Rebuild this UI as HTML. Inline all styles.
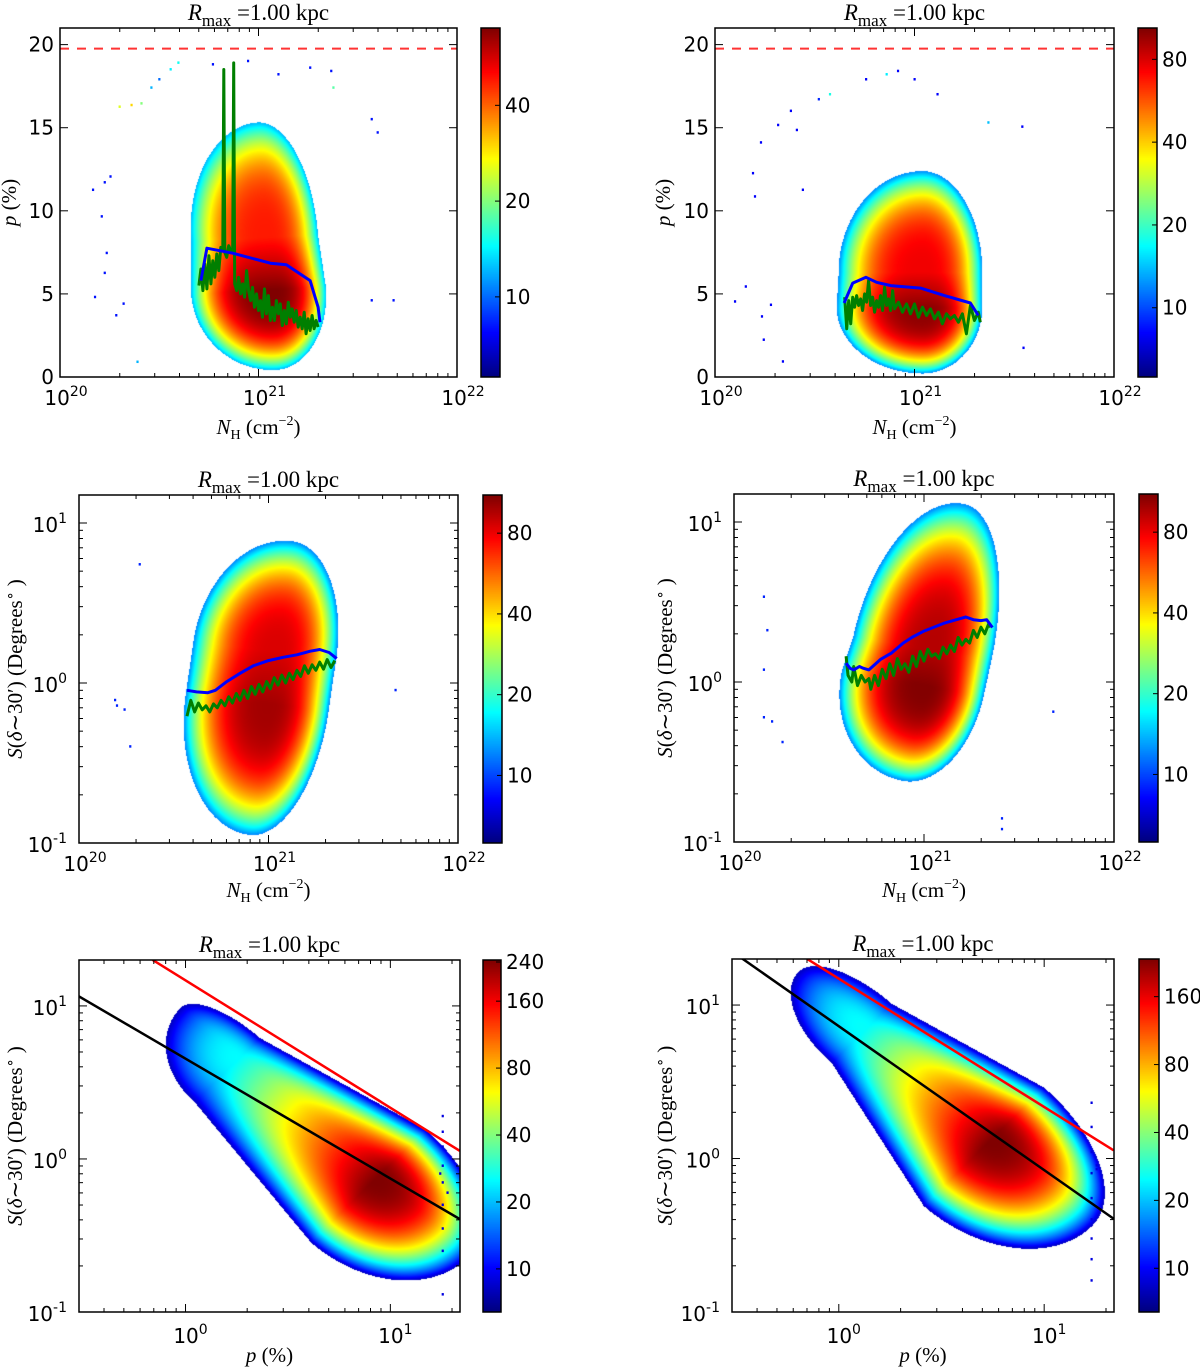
<!DOCTYPE html>
<html><head><meta charset="utf-8">
<style>
html,body{margin:0;padding:0;background:#fff;}
#root{position:relative;width:1200px;height:1372px;overflow:hidden;background:#fff;}
canvas{position:absolute;}
svg{position:absolute;left:0;top:0;}
</style></head>
<body>
<div id="root">
<svg id="svg" width="1200" height="1372" xmlns="http://www.w3.org/2000/svg"></svg>
</div>
<script>
// ---------- DATA ----------
const blueA_x=[20.71,20.74,20.87,21.06,21.14,21.26,21.30,21.31];
const blueA_y=[5.8,7.75,7.45,6.85,6.75,5.8,4.2,3.3];
const greenA_x=[20.70,20.71,20.72,20.73,20.74,20.75,20.76,20.77,20.78,20.79,20.80,20.81,20.82,20.825,20.83,20.84,20.85,20.86,20.87,20.875,20.88,20.89,20.90,20.91,20.92,20.93,20.94,20.95,20.96,20.97,20.98,20.99,21.00,21.01,21.02,21.03,21.04,21.05,21.06,21.07,21.08,21.09,21.10,21.11,21.12,21.13,21.14,21.15,21.16,21.17,21.18,21.19,21.20,21.21,21.22,21.23,21.24,21.25,21.26,21.27,21.28,21.29,21.30];
const greenA_y=[5.5,6.5,5.2,6.8,5.3,7.3,5.6,7.0,6.0,7.4,6.4,7.8,7.6,18.5,7.5,7.2,7.9,7.6,7.6,18.9,5.6,5.2,6.0,5.0,5.6,4.8,6.4,5.2,4.6,5.4,4.2,5.0,4.0,4.6,3.6,5.3,3.8,4.9,3.4,4.2,3.4,4.6,3.8,4.4,3.1,4.0,3.2,4.5,3.6,4.1,3.3,4.0,3.0,3.6,2.9,3.9,2.6,3.5,2.8,3.7,2.9,3.4,3.0];
const dotsA_x=[20.166,20.225,20.254,20.21,20.235,20.225,20.176,20.283,20.32,20.30,20.36,20.41,20.46,20.50,20.557,20.596,20.77,20.947,21.10,21.26,21.366,21.377,21.57,21.60,20.39,21.68,21.57];
const dotsA_y=[11.25,11.7,12.05,9.65,7.45,6.25,4.8,3.7,4.4,16.25,16.35,16.45,17.4,17.9,18.5,18.9,18.8,19.0,18.2,18.6,18.4,17.4,15.5,14.7,0.9,4.6,4.6];
const dotsA_v=[8,8,8,8,8,8,8,8,8,25,30,20,12,10,14,15,8,8,8,8,8,18,8,8,12,8,8];
const blueB_x=[20.647,20.69,20.757,20.81,20.88,21.03,21.15,21.28,21.32];
const blueB_y=[4.45,5.65,6.0,5.7,5.5,5.35,4.9,4.45,3.7];
const greenB_x=[20.65,20.66,20.67,20.68,20.69,20.70,20.71,20.72,20.73,20.74,20.75,20.76,20.77,20.78,20.79,20.80,20.81,20.82,20.83,20.84,20.85,20.86,20.87,20.88,20.89,20.90,20.92,20.94,20.96,20.98,21.00,21.02,21.04,21.06,21.08,21.10,21.12,21.14,21.16,21.18,21.20,21.22,21.24,21.26,21.28,21.30,21.32,21.33];
const greenB_y=[4.8,2.9,4.6,3.2,4.8,4.2,4.9,4.3,4.7,4.0,5.0,4.5,5.8,4.3,4.8,3.9,4.6,4.2,4.9,4.0,5.4,4.3,4.7,4.0,5.2,4.1,4.5,3.9,4.4,3.8,4.4,3.6,4.2,3.7,4.1,3.5,3.9,3.2,3.8,3.5,3.7,3.3,3.8,2.6,4.3,3.4,3.9,3.3];
const dotsB_x=[20.576,20.52,20.757,20.917,20.86,21.0,21.115,21.37,21.54,20.316,20.41,20.38,20.23,20.19,20.20,20.154,20.10,20.235,20.28,20.244,20.34,21.546,20.44];
const dotsB_y=[17.0,16.7,17.9,18.4,18.2,17.9,17.0,15.3,15.05,15.15,14.85,16.0,14.1,12.25,10.85,5.43,4.53,3.63,4.33,2.23,0.92,1.74,11.25];
const dotsB_v=[18,9,8,8,16,8,8,14,8,8,8,8,8,8,8,8,8,8,8,8,8,8,8];
const blueC_x=[20.57,20.62,20.68,20.72,20.78,20.85,20.92,21.0,21.08,21.15,21.22,21.27,21.32,21.36];
const blueC_y=[0.9,0.88,0.87,0.9,1.02,1.15,1.28,1.38,1.45,1.5,1.58,1.62,1.55,1.42];
const greenC_x=[20.57,20.59,20.61,20.63,20.65,20.67,20.69,20.71,20.73,20.75,20.77,20.79,20.81,20.83,20.85,20.87,20.89,20.91,20.93,20.95,20.97,20.99,21.01,21.03,21.05,21.07,21.09,21.11,21.13,21.15,21.17,21.19,21.21,21.23,21.25,21.27,21.29,21.31,21.33,21.35];
const greenC_y=[0.62,0.78,0.66,0.75,0.68,0.72,0.66,0.74,0.70,0.78,0.72,0.82,0.75,0.86,0.78,0.9,0.8,0.95,0.85,0.98,0.88,1.02,0.92,1.08,0.97,1.12,1.0,1.15,1.05,1.2,1.1,1.28,1.15,1.3,1.2,1.35,1.22,1.4,1.25,1.38];
const dotsC_x=[20.19,20.24,20.32,21.67,20.27,20.2];
const dotsC_y=[0.78,0.68,5.5,0.9,0.40,0.72];
const blueD_x=[20.59,20.61,20.63,20.66,20.68,20.71,20.77,20.83,20.89,20.94,21.0,21.06,21.11,21.17,21.22,21.26,21.3,21.33,21.36];
const blueD_y=[1.31,1.22,1.19,1.25,1.22,1.19,1.38,1.52,1.75,1.91,2.08,2.22,2.34,2.45,2.55,2.45,2.42,2.45,2.19];
const greenD_x=[20.59,20.6,20.62,20.63,20.65,20.67,20.69,20.71,20.72,20.74,20.76,20.78,20.8,20.82,20.84,20.86,20.88,20.9,20.92,20.94,20.96,20.98,21.0,21.02,21.04,21.06,21.08,21.1,21.12,21.14,21.16,21.18,21.2,21.22,21.24,21.26,21.28,21.3,21.32,21.34,21.35];
const greenD_y=[1.45,1.1,1.0,1.25,0.95,1.1,1.0,1.05,0.9,1.1,0.95,1.2,1.05,1.3,1.1,1.4,1.2,1.3,1.15,1.45,1.25,1.55,1.35,1.6,1.45,1.5,1.4,1.65,1.5,1.7,1.55,1.9,1.7,1.85,1.75,2.1,1.9,2.2,2.0,2.3,2.2];
const dotsD_x=[20.157,20.175,20.157,20.157,20.2,20.255,21.68,21.41,21.41];
const dotsD_y=[3.4,2.1,1.19,0.6,0.565,0.42,0.65,0.14,0.12];
const fitBlackE_x=[0.3,21.8], fitBlackE_y=[11.6,0.405];
const fitRedE_x=[0.69,21.8], fitRedE_y=[20,1.13];
const fitBlackF_x=[0.3,21.8], fitBlackF_y=[22.5,0.405];
const fitRedF_x=[0.7,21.8], fitRedF_y=[20,1.13];
const dotsE_x=[18,18,18,18,18,18,18,18,18,18,17.5,19];
const dotsE_y=[1.9,1.5,1.2,0.9,0.7,0.5,0.35,0.25,0.18,0.13,0.8,0.6];
const dotsF_x=[17,17,17,17,17,17,17,17,17,18,18];
const dotsF_y=[2.3,1.6,1.1,0.8,0.55,0.4,0.3,0.22,0.16,0.9,0.85];
// Density blob shape models (axes-fraction core segment, side radii at each end, peak counts)
const blobA={p1:[0.53,0.25],p2:[0.52,0.40],ra1:0.23,ra2:0.33,rpPos:[0.20,0.19],rpNeg:[0.14,0.13],pk1:70,pk2:48,edge:12,pw:3.2};
const blobB={p1:[0.52,0.20],p2:[0.52,0.30],ra1:0.19,ra2:0.29,rpPos:[0.215,0.21],rpNeg:[0.15,0.15],pk1:100,pk2:75,edge:12,pw:3.2};
const blobC={p1:[0.50,0.40],p2:[0.52,0.55],ra1:0.38,ra2:0.32,rpPos:[0.22,0.22],rpNeg:[0.16,0.16],pk1:100,pk2:85,edge:12,pw:3};
const blobD={p1:[0.50,0.45],p2:[0.52,0.55],ra1:0.28,ra2:0.43,rpPos:[0.22,0.21],rpNeg:[0.16,0.16],pk1:110,pk2:95,edge:12,pw:3};
const blobE={p1:[0.78,0.38],p2:[0.42,0.72],ra1:0.33,ra2:0.21,rpPos:[0.25,0.17],rpNeg:[0.19,0.08],pk1:245,pk2:25,edge:8,pw:2.5};
const blobF={p1:[0.68,0.49],p2:[0.35,0.80],ra1:0.36,ra2:0.24,rpPos:[0.26,0.13],rpNeg:[0.20,0.10],pk1:235,pk2:25,edge:8,pw:2.5};
const cbTicksA=[10,20,40], cbTicksB=[10,20,40,80], cbTicksC=[10,20,40,80], cbTicksD=[10,20,40,80];
const cbTicksE=[10,20,40,80,160,240], cbTicksF=[10,20,40,80,160];
const yTicksLin=[0,5,10,15,20];
const dashedLimit=19.76;

// ---------- RENDER ----------
const NS='http://www.w3.org/2000/svg';
const svg=document.getElementById('svg');
const root=document.getElementById('root');
function mk(tag,attrs,parent){const e=document.createElementNS(NS,tag);for(const k in attrs)e.setAttribute(k,attrs[k]);parent.appendChild(e);return e;}
function cl(x){return Math.max(0,Math.min(1,x));}
function jet(t){return [cl(Math.min(4*t-1.5,-4*t+4.5)),cl(Math.min(4*t-0.5,-4*t+3.5)),cl(Math.min(4*t+0.5,-4*t+2.5))];}
function blobVal(b,u,v){
  const ax=b.p2[0]-b.p1[0],ay=b.p2[1]-b.p1[1],L=Math.hypot(ax,ay);
  const dx=ax/L,dy=ay/L,px=-dy,py=dx;
  let t=((u-b.p1[0])*dx+(v-b.p1[1])*dy)/L;t=Math.max(0,Math.min(1,t));
  const nx=b.p1[0]+t*ax,ny=b.p1[1]+t*ay;
  const ex=u-nx,ey=v-ny;
  const a=ex*dx+ey*dy,p=ex*px+ey*py;
  const ra=a<0?b.ra1:b.ra2;
  const rr=p>0?b.rpPos:b.rpNeg;
  const rp=rr[0]+(rr[1]-rr[0])*t;
  const r=Math.hypot(a/ra,p/rp);
  if(r>1)return null;
  const pk=b.pk1*Math.pow(b.pk2/b.pk1,t);
  return pk*Math.pow(b.edge/pk,Math.pow(r,b.pw));
}

const panels=[
 {id:'a',L:60,T:28,W:397,H:349,xt:'nh',yt:'lin',ymin:0,ymax:21,blob:blobA,vmin:5.6,vmax:70,cbx:481,cbw:19,cbt:cbTicksA,
  blue:[blueA_x,blueA_y],green:[greenA_x,greenA_y],dots:[dotsA_x,dotsA_y,dotsA_v],dash:true,ylx:16,xly:434},
 {id:'b',L:715,T:28,W:399,H:349,xt:'nh',yt:'lin',ymin:0,ymax:21,blob:blobB,vmin:5.6,vmax:104,cbx:1138,cbw:19,cbt:cbTicksB,
  blue:[blueB_x,blueB_y],green:[greenB_x,greenB_y],dots:[dotsB_x,dotsB_y,dotsB_v],dash:true,ylx:670,xly:434},
 {id:'c',L:79,T:495,W:379,H:348,xt:'nh',yt:'log',lmin:-1,lmax:1.175,blob:blobC,vmin:5.6,vmax:111,cbx:483,cbw:19,cbt:cbTicksC,
  blue:[blueC_x,blueC_y],green:[greenC_x,greenC_y],dots:[dotsC_x,dotsC_y,null],ylx:22,xly:897},
 {id:'d',L:734,T:494,W:380,H:348,xt:'nh',yt:'log',lmin:-1,lmax:1.175,blob:blobD,vmin:5.6,vmax:111,cbx:1139,cbw:19,cbt:cbTicksD,
  blue:[blueD_x,blueD_y],green:[greenD_x,greenD_y],dots:[dotsD_x,dotsD_y,null],ylx:672,xly:897},
 {id:'e',L:79,T:960,W:381,H:352,xt:'p',yt:'log',lmin:-1,lmax:1.30,blob:blobE,vmin:6.4,vmax:245,cbx:483,cbw:18,cbt:cbTicksE,
  fits:[[fitBlackE_x,fitBlackE_y,'#000'],[fitRedE_x,fitRedE_y,'#ff0000']],dots:[dotsE_x,dotsE_y,null],ylx:22,xly:1362},
 {id:'f',L:732,T:959,W:382,H:353,xt:'p',yt:'log',lmin:-1,lmax:1.30,blob:blobF,vmin:6.4,vmax:235,cbx:1139,cbw:20,cbt:cbTicksF,
  fits:[[fitBlackF_x,fitBlackF_y,'#000'],[fitRedF_x,fitRedF_y,'#ff0000']],dots:[dotsF_x,dotsF_y,null],ylx:672,xly:1362}
];

function colorOf(P,v){const t=Math.log(v/P.vmin)/Math.log(P.vmax/P.vmin);const c=jet(cl(t));return 'rgb('+Math.round(c[0]*255)+','+Math.round(c[1]*255)+','+Math.round(c[2]*255)+')';}

panels.forEach(P=>{
  const X=P.xt==='nh'?(v=>P.L+(v-20)/2*P.W):(v=>P.L+(Math.log10(v)+0.52)/1.86*P.W);
  const Y=P.yt==='lin'?(v=>P.T+P.H-(v-P.ymin)/(P.ymax-P.ymin)*P.H):(v=>P.T+P.H-(Math.log10(v)-P.lmin)/(P.lmax-P.lmin)*P.H);
  const cv=document.createElement('canvas');cv.width=P.W;cv.height=P.H;cv.style.left=P.L+'px';cv.style.top=P.T+'px';
  
  
  root.insertBefore(cv,svg);
  const ctx=cv.getContext('2d');const img=ctx.createImageData(P.W,P.H);
  const lv=Math.log(P.vmax/P.vmin);
  for(let j=0;j<P.H;j++)for(let i=0;i<P.W;i++){
    const val=blobVal(P.blob,(i+0.5)/P.W,1-(j+0.5)/P.H);const k=(j*P.W+i)*4;
    if(val===null){img.data[k]=255;img.data[k+1]=255;img.data[k+2]=255;img.data[k+3]=255;continue;}
    const c=jet(cl(Math.log(val/P.vmin)/lv));
    img.data[k]=c[0]*255;img.data[k+1]=c[1]*255;img.data[k+2]=c[2]*255;img.data[k+3]=255;
  }
  ctx.putImageData(img,0,0);
  const cb=document.createElement('canvas');cb.width=P.cbw;cb.height=P.H;cb.style.left=P.cbx+'px';cb.style.top=P.T+'px';
  
  
  root.insertBefore(cb,svg);
  const c2=cb.getContext('2d');
  for(let j=0;j<P.H;j++){const c=jet(1-j/(P.H-1));c2.fillStyle='rgb('+Math.round(c[0]*255)+','+Math.round(c[1]*255)+','+Math.round(c[2]*255)+')';c2.fillRect(0,j,P.cbw,1);}

  const g=mk('g',{},svg);
  
  
  const clipId='clip'+P.id;
  const cp=mk('clipPath',{id:clipId},g);mk('rect',{x:P.L,y:P.T,width:P.W,height:P.H},cp);
  const plot=mk('g',{'clip-path':'url(#'+clipId+')'},g);
  
  
  const dx=P.dots[0],dy=P.dots[1],dv=P.dots[2];
  for(let i=0;i<dx.length;i++){
    const r=mk('rect',{x:X(dx[i])-1,y:Y(dy[i])-1.5,width:2.2,height:2.5,fill:colorOf(P,dv?dv[i]:9)},plot);
    
    
  }
  if(P.dash){
    const l=mk('line',{x1:P.L,x2:P.L+P.W,y1:Y(dashedLimit),y2:Y(dashedLimit),stroke:'#ff3333','stroke-width':2,'stroke-dasharray':'9,8'},plot);
    
    
  }
  if(P.green){
    const pts=P.green[0].map((v,i)=>X(v).toFixed(1)+','+Y(P.green[1][i]).toFixed(1)).join(' ');
    const pl=mk('polyline',{points:pts,fill:'none',stroke:'#007f00','stroke-width':3,'stroke-linejoin':'round'},plot);
    
    
  }
  if(P.blue){
    const pts=P.blue[0].map((v,i)=>X(v).toFixed(1)+','+Y(P.blue[1][i]).toFixed(1)).join(' ');
    const pl=mk('polyline',{points:pts,fill:'none',stroke:'#0000ff','stroke-width':3,'stroke-linejoin':'round'},plot);
    
    
  }
  if(P.fits){P.fits.forEach(f=>{
    const l=mk('line',{x1:X(f[0][0]),y1:Y(f[1][0]),x2:X(f[0][1]),y2:Y(f[1][1]),stroke:f[2],'stroke-width':2.5},plot);
    
    
  });}
  const fr=mk('rect',{x:P.L,y:P.T,width:P.W,height:P.H,fill:'none',stroke:'#000','stroke-width':1.5},g);
  
  
  const tg=mk('g',{stroke:'#000','stroke-width':1},g);
  
  
  function xt(x,len){mk('line',{x1:x,x2:x,y1:P.T+P.H,y2:P.T+P.H-len},tg);mk('line',{x1:x,x2:x,y1:P.T,y2:P.T+len},tg);}
  function yt(y,len){mk('line',{x1:P.L,x2:P.L+len,y1:y,y2:y},tg);mk('line',{x1:P.L+P.W,x2:P.L+P.W-len,y1:y,y2:y},tg);}
  const lab=mk('g',{'font-family':'"DejaVu Sans","Liberation Sans",sans-serif','font-size':20,fill:'#000'},g);
  
  
  function pow10(x,y,base,exp,anchor){
    const t=mk('text',{x:x,y:y,'text-anchor':anchor},lab);t.textContent=base;
    const s=mk('tspan',{dy:-9,'font-size':14},t);s.textContent=exp;
    
    
  }
  if(P.xt==='nh'){
    for(let d=20;d<=22;d++){xt(X(d),8);pow10(X(d)+6,P.T+P.H+28,'10',String(d),'middle');
      if(d<22)for(let k=2;k<10;k++)xt(X(d+Math.log10(k)),4);}
  } else {
    [1,10].forEach((v,i)=>{xt(X(v),8);pow10(X(v)+5,P.T+P.H+31,'10',String(i),'middle');});
    [0.4,0.5,0.6,0.7,0.8,0.9,2,3,4,5,6,7,8,9,20].forEach(v=>xt(X(v),4));
  }
  if(P.yt==='lin'){
    yTicksLin.forEach(v=>{yt(Y(v),8);const t=mk('text',{x:P.L-6,y:Y(v)+7,'text-anchor':'end'},lab);t.textContent=String(v);
      
      });
  } else {
    [0.1,1,10].forEach((v,i)=>{yt(Y(v),8);pow10(P.L-12,Y(v)+9,'10',String(i-1),'end');});
    [0.2,0.3,0.4,0.5,0.6,0.7,0.8,0.9,2,3,4,5,6,7,8,9,20].forEach(v=>{const y=Y(v);if(y>=P.T)yt(y,4);});
  }
  const tt=mk('text',{x:P.L+P.W/2,y:P.T-8,'text-anchor':'middle','font-family':'"Liberation Serif",serif','font-size':23},g);
  
  
  const t1=mk('tspan',{'font-style':'italic'},tt);t1.textContent='R';
  const t2=mk('tspan',{dy:6,'font-size':17},tt);t2.textContent='max';
  const t3=mk('tspan',{dy:-6},tt);t3.textContent=' =1.00 kpc';
  const xl=mk('text',{x:P.L+P.W/2,y:P.xly,'text-anchor':'middle','font-family':'"Liberation Serif",serif','font-size':21},g);
  
  
  if(P.xt==='nh'){
    const a=mk('tspan',{'font-style':'italic'},xl);a.textContent='N';
    const b=mk('tspan',{dy:5,'font-size':14},xl);b.textContent='H';
    const c=mk('tspan',{dy:-5},xl);c.textContent=' (cm';
    const d=mk('tspan',{dy:-9,'font-size':14},xl);d.textContent='−2';
    const e=mk('tspan',{dy:9},xl);e.textContent=')';
  } else {
    const a=mk('tspan',{'font-style':'italic'},xl);a.textContent='p';
    const b=mk('tspan',{},xl);b.textContent=' (%)';
  }
  const cy=P.T+P.H/2;
  const yl=mk('text',{x:0,y:0,transform:'translate('+P.ylx+','+cy+') rotate(-90)','text-anchor':'middle','font-family':'"Liberation Serif",serif','font-size':21},g);
  
  
  if(P.yt==='lin'){
    const a=mk('tspan',{'font-style':'italic'},yl);a.textContent='p';
    const b=mk('tspan',{},yl);b.textContent=' (%)';
  } else {
    const a=mk('tspan',{'font-style':'italic'},yl);a.textContent='S';
    const b=mk('tspan',{},yl);b.textContent='(';
    const c=mk('tspan',{'font-style':'italic'},yl);c.textContent='δ';
    const d=mk('tspan',{},yl);d.textContent='∼30′) (Degrees';
    const e=mk('tspan',{dy:-8,'font-size':14},yl);e.textContent='∘';
    const f=mk('tspan',{dy:8},yl);f.textContent=' )';
  }
  const cf=mk('rect',{x:P.cbx,y:P.T,width:P.cbw,height:P.H,fill:'none',stroke:'#000','stroke-width':1.5},g);
  
  
  const lv2=Math.log(P.vmax/P.vmin);
  P.cbt.forEach(v=>{
    const y=P.T+P.H*(1-Math.log(v/P.vmin)/lv2);
    mk('line',{x1:P.cbx+P.cbw,x2:P.cbx+P.cbw-5,y1:y,y2:y,stroke:'#000','stroke-width':1},g);
    const t=mk('text',{x:P.cbx+P.cbw+5,y:y+7,'font-family':'"DejaVu Sans","Liberation Sans",sans-serif','font-size':20},g);
    t.textContent=String(v);
    
    
  });
});
</script>
</body></html>
